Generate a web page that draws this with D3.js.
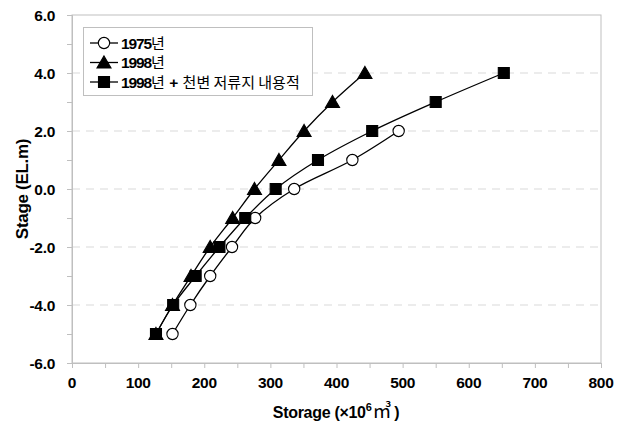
<!DOCTYPE html>
<html><head><meta charset="utf-8">
<script src="https://cdn.jsdelivr.net/npm/d3@7"></script>
<style>
body{margin:0;background:#fff;}
svg{display:block;}
text{font-family:"Liberation Sans",Arial,sans-serif;}
</style></head>
<body><svg id="c" width="626" height="429"></svg>
<script>
const stage1975 = [-5,-4,-3,-2,-1,0,1,2];
const storage1975 = [152,179,209,242,277,336,424,494];
const stage1998 = [-5,-4,-3,-2,-1,0,1,2,3,4];
const storage1998 = [127,152,180,209,243,276,313,351,394,443];
const stageRes = [-5,-4,-3,-2,-1,0,1,2,3,4];
const storageRes = [127,153,187,223,262,308,372,454,550,653];
const yTicks = [-6,-4,-2,0,2,4,6];
const xTicks = [0,100,200,300,400,500,600,700,800];
const legendYear = ["1975","1998","1998"];
const legendSuffix = [["년"],["년"],["년"," + ","천변 저류지 내용적"]];

const svg = d3.select("#c");
const L=72,R=601,T=15,B=363;
const x = d3.scaleLinear().domain([0,800]).range([L,R]);
const y = d3.scaleLinear().domain([-6,6]).range([B,T]);

// gridlines
svg.append("g").selectAll("line").data([-4,-2,0,2,4]).join("line")
  .attr("x1",L).attr("x2",R).attr("y1",d=>y(d)).attr("y2",d=>y(d))
  .attr("stroke","#d9d9d9").attr("stroke-width",1).attr("stroke-dasharray","8,6");
// border
svg.append("rect").attr("x",L).attr("y",T).attr("width",R-L).attr("height",B-T)
  .attr("fill","none").attr("stroke","#bfbfbf").attr("stroke-width",1);

// axes
const yAxis = d3.axisLeft(y).tickValues(d3.range(-6,6.01,1)).tickSize(5).tickFormat("");
const gy = svg.append("g").attr("transform",`translate(${L},0)`).call(yAxis);
const xAxis = d3.axisBottom(x).tickValues(d3.range(0,801,50)).tickSize(5).tickFormat("");
const gx = svg.append("g").attr("transform",`translate(0,${B})`).call(xAxis);
[gy,gx].forEach(g=>{g.select(".domain").attr("stroke","#bfbfbf");g.selectAll(".tick line").attr("stroke","#bfbfbf");});

svg.append("g").selectAll("text").data(yTicks).join("text")
  .attr("x",55).attr("y",d=>y(d)+5.5).attr("text-anchor","end")
  .attr("font-size",15.5).attr("font-weight","bold").attr("fill","#000").attr("letter-spacing",-0.3)
  .text(d=>d3.format(".1f")(d).replace("−","-"));
svg.append("g").selectAll("text").data(xTicks).join("text")
  .attr("x",d=>x(d)).attr("y",388).attr("text-anchor","middle")
  .attr("font-size",15.5).attr("font-weight","bold").attr("fill","#000").attr("letter-spacing",-0.3)
  .text(d=>d);

// axis titles
svg.append("text").attr("transform",`translate(28,${(T+B)/2}) rotate(-90)`)
  .attr("text-anchor","middle").attr("font-size",17).attr("font-weight","bold").attr("letter-spacing",-0.3).text("Stage (EL.m)");
const xt = svg.append("text").attr("x",336).attr("y",418).attr("text-anchor","middle")
  .attr("font-size",16).attr("font-weight","bold").attr("letter-spacing",-0.3);
xt.append("tspan").text("Storage (×10");
xt.append("tspan").attr("dy",-7).attr("font-size",11).text("6");
xt.append("tspan").attr("dy",7).attr("dx",1).attr("font-family","'Noto Sans CJK KR'").attr("font-weight","normal").attr("font-size",19).text("㎥");
xt.append("tspan").attr("dx",3).text(")");

// series
const line = d3.line().x(d=>x(d[0])).y(d=>y(d[1])).curve(d3.curveCatmullRom.alpha(0.5));
const s1 = storage1975.map((v,i)=>[v,stage1975[i]]);
const s2 = storage1998.map((v,i)=>[v,stage1998[i]]);
const s3 = storageRes.map((v,i)=>[v,stageRes[i]]);
const sym = {
  circle: d3.symbol().type(d3.symbolCircle).size(100),
  tri: d3.symbol().type(d3.symbolTriangle).size(85),
  sq: d3.symbol().type(d3.symbolSquare).size(121)
};
function series(data, kind, fill){
  svg.append("path").datum(data).attr("d",line).attr("fill","none").attr("stroke","#000").attr("stroke-width",1.3);
  svg.append("g").selectAll("path").data(data).join("path")
    .attr("transform",d=>`translate(${x(d[0])},${y(d[1])+(kind==="tri"?1.5:0)})`)
    .attr("d",sym[kind]()).attr("fill",fill).attr("stroke","#000").attr("stroke-width",1.1);
}
series(s1,"circle","#fff");
series(s2,"tri","#000");
series(s3,"sq","#000");

// legend
const lg = svg.append("g");
lg.append("rect").attr("x",83.5).attr("y",27.5).attr("width",229).attr("height",68)
  .attr("fill","#fff").attr("stroke","#bfbfbf");
const kinds=[["circle","#fff"],["tri","#000"],["sq","#000"]];
const rowY=[43,62.5,82];
kinds.forEach((k,i)=>{
  lg.append("line").attr("x1",90).attr("x2",118).attr("y1",rowY[i]).attr("y2",rowY[i]).attr("stroke","#000").attr("stroke-width",1.3);
  lg.append("path").attr("transform",`translate(104,${rowY[i]+(k[0]==="tri"?1.5:0)})`).attr("d",sym[k[0]]()).attr("fill",k[1]).attr("stroke","#000").attr("stroke-width",1.1);
  const t = lg.append("text").attr("x",121).attr("y",rowY[i]+5.5).attr("font-size",15.5).attr("font-weight","bold");
  t.append("tspan").attr("letter-spacing",-1.1).text(legendYear[i]);
  legendSuffix[i].forEach(s=>{
    if(s.trim()==="+") t.append("tspan").attr("font-weight","bold").text(s);
    else t.append("tspan").attr("font-family","'Noto Sans CJK KR'").attr("font-weight","normal").attr("font-size",15).text(s);
  });
});
</script></body></html>
